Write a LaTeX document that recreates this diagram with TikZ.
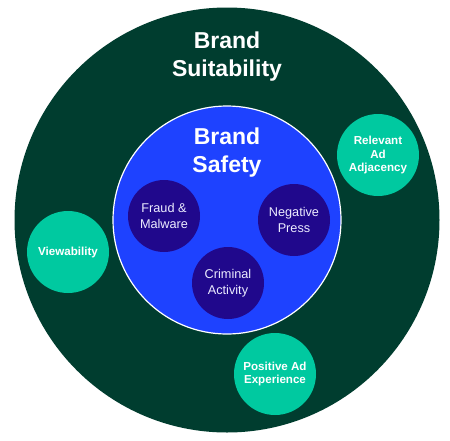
\documentclass[tikz,border=0pt]{standalone}
\usepackage{fontspec}
\setmainfont{Liberation Sans}
\definecolor{outergreen}{RGB}{0,61,47}
\definecolor{safeblue}{RGB}{30,66,255}
\definecolor{deeppurple}{RGB}{32,8,140}
\definecolor{teal}{RGB}{0,201,160}
\definecolor{softwhite}{RGB}{236,236,255}
\tikzset{
  bigtitle/.style={text=white, font=\fontsize{23}{28}\selectfont\bfseries, align=center},
  threat/.style={circle, fill=deeppurple, minimum size=72pt, inner sep=0pt, text=softwhite, font=\fontsize{12.7}{16}\selectfont, align=center},
  extra/.style={circle, fill=teal, minimum size=82pt, inner sep=0pt, text=white, font=\fontsize{11.6}{13.7}\selectfont\bfseries, align=center}
}
\begin{document}
\begin{tikzpicture}[x=1pt,y=-1pt]
\useasboundingbox (0,0) rectangle (450,440);
\fill[white] (0,0) rectangle (450,440);
\node[circle, fill=outergreen, minimum size=425pt, inner sep=0pt] (suit) at (227,220) {};
\node[circle, fill=safeblue, draw=white, line width=1.2pt, minimum size=228pt, inner sep=0pt] (safe) at (227,220) {};
\node[bigtitle] (suittitle) at (227,57) {Brand\\Suitability};
\node[bigtitle] (safetitle) at (227,153) {Brand\\Safety};
\node[threat] (fraud) at (164,216) {Fraud \&\\Malware};
\node[threat] (press) at (294,220) {Negative\\Press};
\node[threat] (crime) at (228,283) {Criminal\\Activity};
\node[extra] (view) at (68,252) {Viewability};
\node[extra] (adj) at (378,155) {Relevant\\Ad\\Adjacency};
\node[extra] (pos) at (275,374) {Positive Ad\\Experience};
\end{tikzpicture}
\end{document}
